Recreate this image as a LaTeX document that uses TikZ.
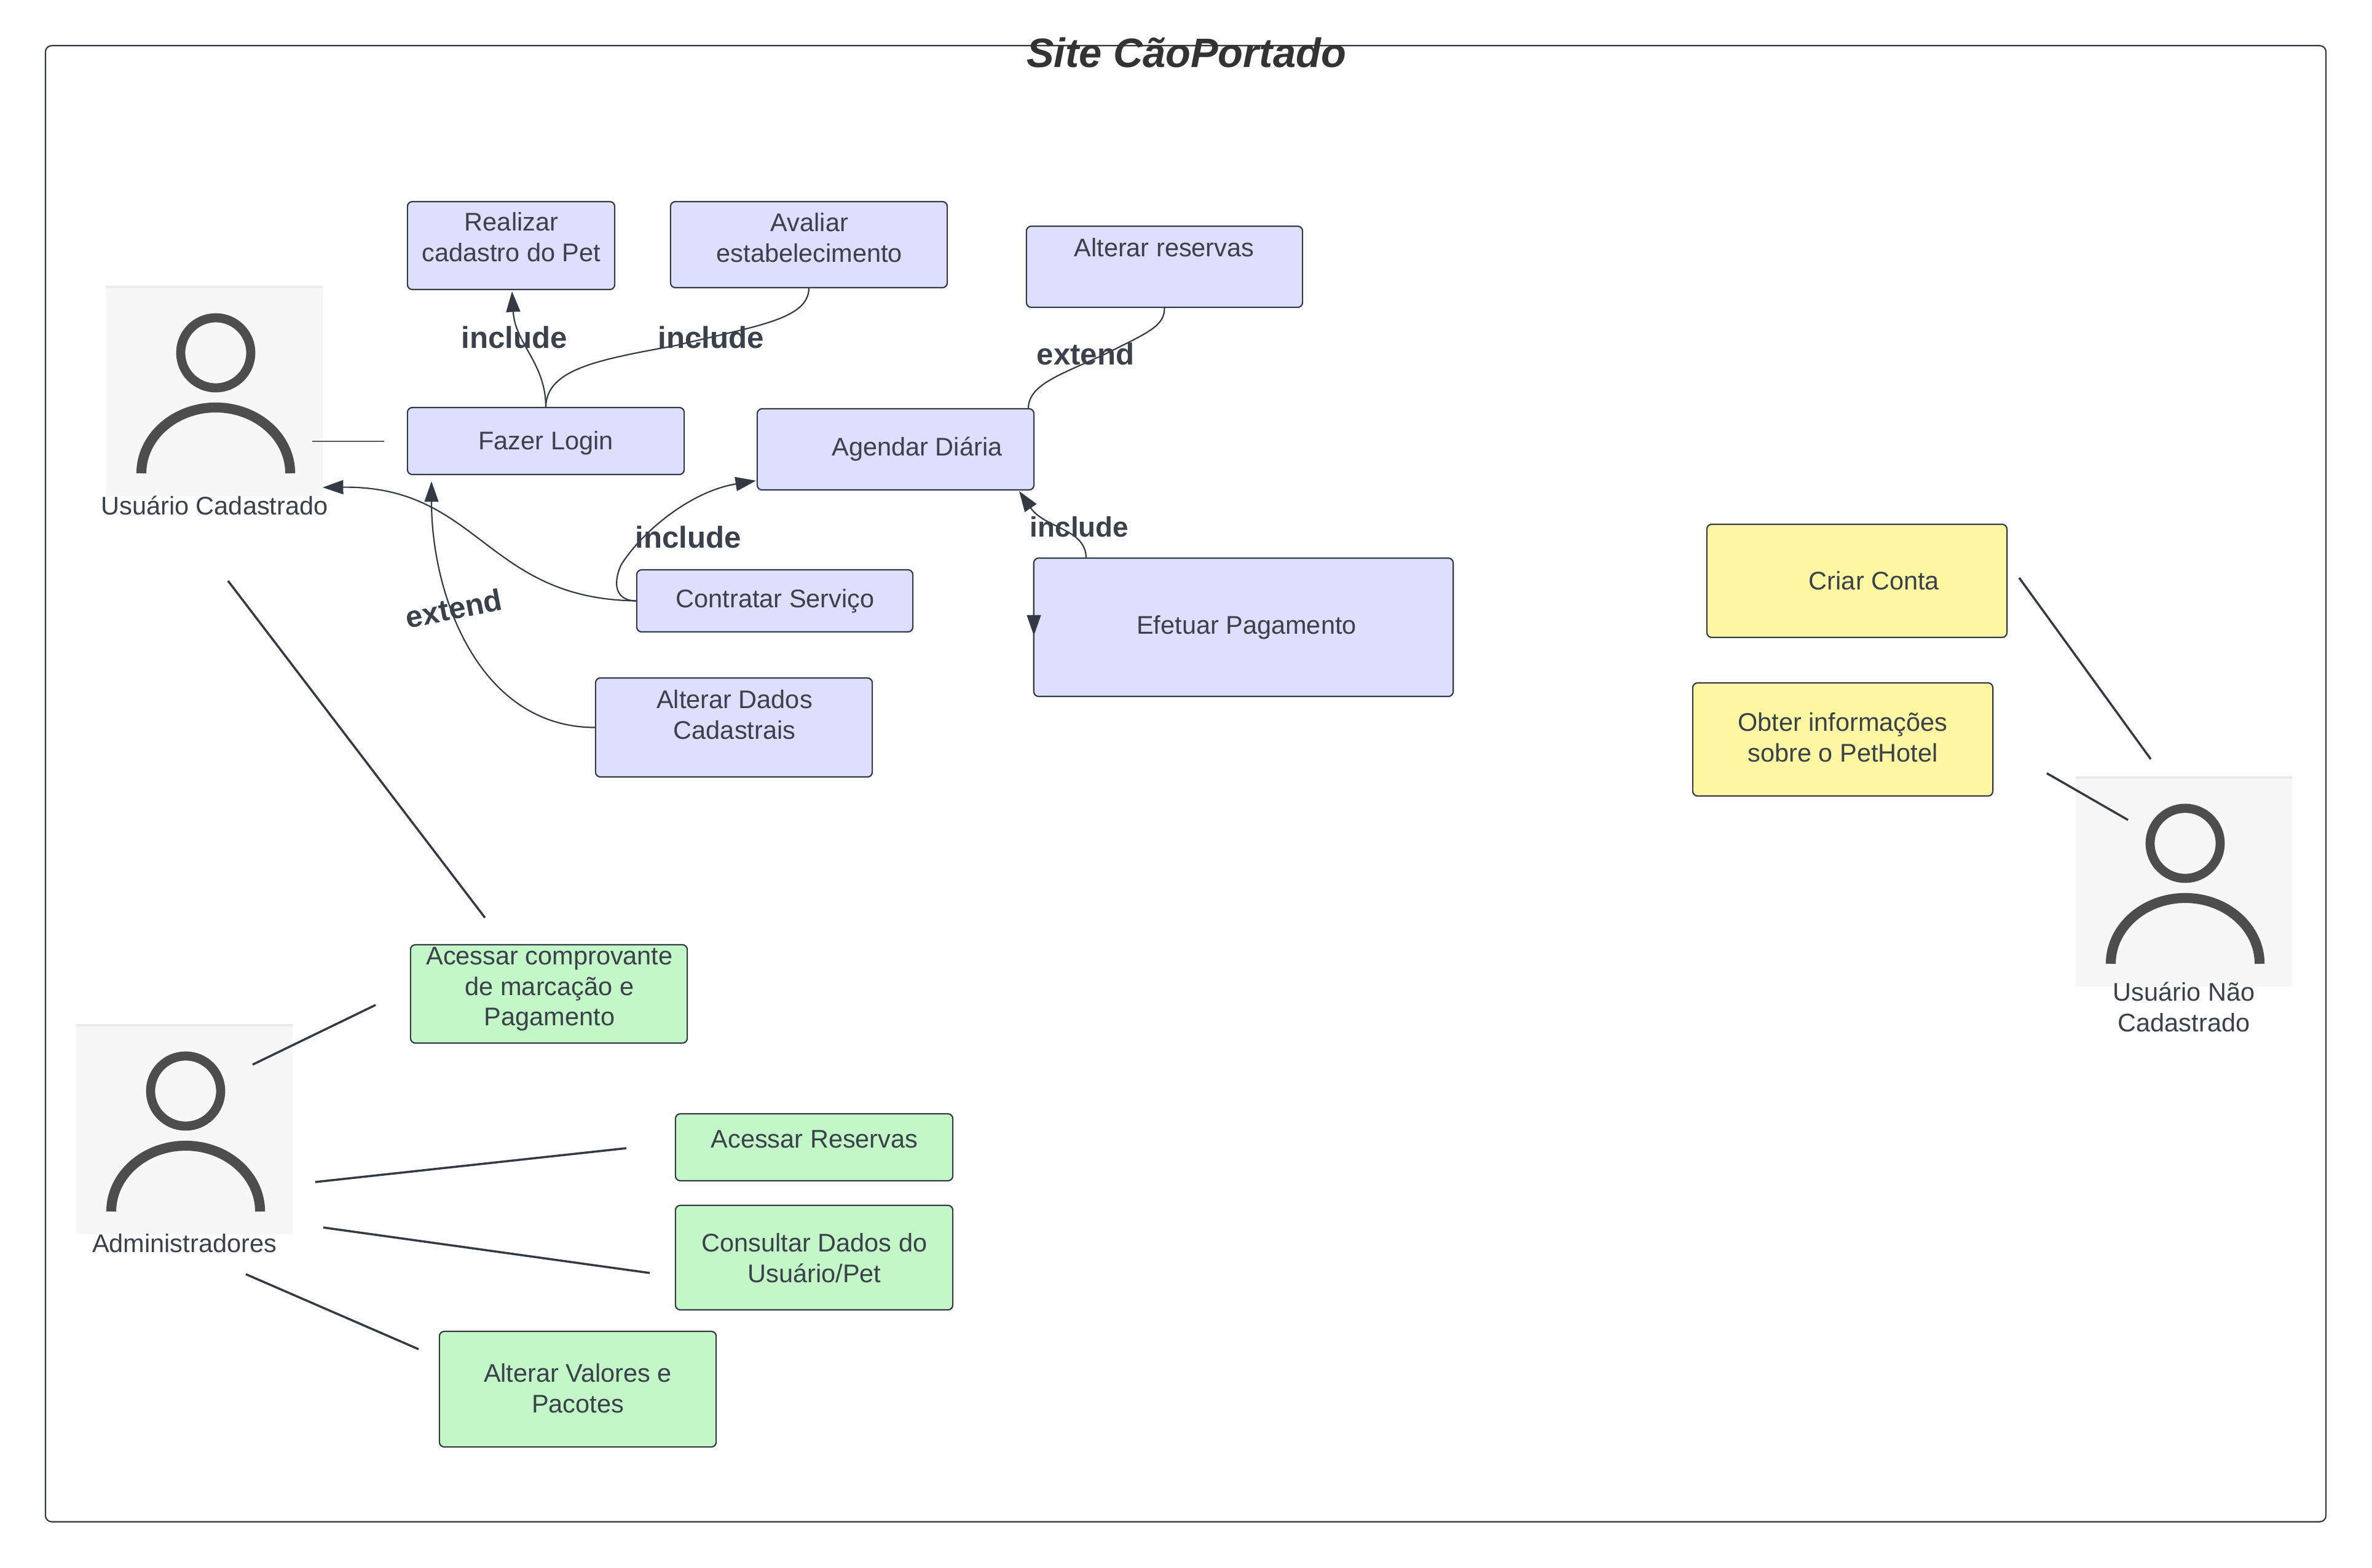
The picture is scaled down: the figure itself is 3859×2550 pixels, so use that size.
\documentclass[tikz,border=0pt]{standalone}
\usepackage{fontspec}
\setmainfont{Liberation Sans}
\usetikzlibrary{arrows.meta}
\definecolor{inkline}{HTML}{333A44}
\definecolor{inktext}{HTML}{3A414A}
\definecolor{purplefill}{HTML}{DEDEFF}
\definecolor{greenfill}{HTML}{C3F7C8}
\definecolor{yellowfill}{HTML}{FFF7A1}
\definecolor{actorfill}{HTML}{F7F7F7}
\definecolor{actorink}{HTML}{4D4D4D}
\tikzset{
  ucbox/.style={draw=inkline, line width=.62pt, rounded corners=.08cm, inner sep=0pt, outer sep=0pt},
  purplebox/.style={ucbox, fill=purplefill},
  greenbox/.style={ucbox, fill=greenfill},
  yellowbox/.style={ucbox, fill=yellowfill},
  boxtext/.style={text=inktext, align=center, inner sep=0pt, font=\fontsize{11.8pt}{14.2pt}\selectfont},
  relname/.style={text=inktext, inner sep=0pt, font=\fontsize{14pt}{17pt}\selectfont\bfseries},
  curve/.style={draw=inkline, line width=.62pt},
  arrowcurve/.style={curve, -{Triangle[length=9.5pt,width=6.5pt]}},
  assoc/.style={draw=inkline, line width=1pt},
  useractor/.pic={
    \node[fill=actorfill, minimum width=3.52cm, minimum height=3.4cm, inner sep=0pt, outer sep=0pt] (-img) at (0,0) {};
    \draw[draw=black!8, line width=1pt] (-img.north west) -- (-img.north east);
    \draw[actorink, line width=4.2pt] (2,-63) ellipse[x radius=.57cm, y radius=.57cm];
    \draw[actorink, line width=4.6pt] (-119,133) arc[start angle=180, end angle=0, x radius=1.21cm, y radius=1.07cm];
  }
}
\begin{document}
\begin{tikzpicture}[x=.01cm, y=-.01cm]
      \useasboundingbox (0,0) rectangle (3859,2550);
      \node[draw=inkline, line width=.62pt, rounded corners=.1cm, minimum width=37.08cm, minimum height=24cm, inner sep=0pt, outer sep=0pt] (frame) at (1929,1275) {};
      \node[text=black!80, inner sep=0pt, font=\fontsize{19pt}{23pt}\selectfont\bfseries\itshape] (title) at (1930,86) {Site CãoPortado};

      \pic (cad) at (349,637) {useractor};
      \pic (adm) at (300,1838) {useractor};
      \pic (nao) at (3553,1435) {useractor};
      \node[boxtext] (cadname) at (349,822) {Usuário Cadastrado};
      \node[boxtext] (admname) at (300,2023) {Administradores};
      \node[boxtext] (naoname) at (3553,1638) {Usuário Não\\Cadastrado};

      \node[purplebox, minimum width=3.37cm, minimum height=1.43cm] (realizar) at (831.5,399.5) {};
      \node[boxtext] (realizartext) at (832,386) {Realizar\\cadastro do Pet};
      \node[purplebox, minimum width=4.5cm, minimum height=1.4cm] (avaliar) at (1316,398) {};
      \node[boxtext] (avaliartext) at (1317,387) {Avaliar\\estabelecimento};
      \node[purplebox, minimum width=4.49cm, minimum height=1.32cm] (reservas) at (1894.5,434) {};
      \node[boxtext] (reservastext) at (1894,403) {Alterar reservas};
      \node[purplebox, minimum width=4.5cm, minimum height=1.09cm] (login) at (888,717.5) {};
      \node[boxtext] (logintext) at (888,721) {Fazer Login};
      \node[purplebox, minimum width=4.5cm, minimum height=1.32cm] (agendar) at (1457,731) {};
      \node[boxtext] (agendartext) at (1492,731) {Agendar Diária};
      \node[purplebox, minimum width=4.49cm, minimum height=1.01cm] (contratar) at (1260.5,977.5) {};
      \node[boxtext] (contratartext) at (1261,978) {Contratar Serviço};
      \node[purplebox, minimum width=4.5cm, minimum height=1.61cm] (altdados) at (1194,1183.5) {};
      \node[boxtext] (altdadostext) at (1195,1163) {Alterar Dados\\Cadastrais};
      \node[purplebox, minimum width=6.82cm, minimum height=2.25cm] (pagamento) at (2023,1020.5) {};
      \node[boxtext] (pagamentotext) at (2028,1021) {Efetuar Pagamento};

      \node[greenbox, minimum width=4.5cm, minimum height=1.6cm] (comprovante) at (893,1617) {};
      \node[boxtext] (comprovantetext) at (894,1609) {Acessar comprovante\\de marcação e\\Pagamento};
      \node[greenbox, minimum width=4.51cm, minimum height=1.09cm] (acessar) at (1324.5,1866.5) {};
      \node[boxtext] (acessartext) at (1325,1853) {Acessar Reservas};
      \node[greenbox, minimum width=4.51cm, minimum height=1.7cm] (consultar) at (1324.5,2046) {};
      \node[boxtext] (consultartext) at (1325,2047) {Consultar Dados do\\Usuário/Pet};
      \node[greenbox, minimum width=4.5cm, minimum height=1.88cm] (valores) at (940,2260) {};
      \node[boxtext] (valorestext) at (940,2259) {Alterar Valores e\\Pacotes};

      \node[yellowbox, minimum width=4.88cm, minimum height=1.84cm] (criar) at (3021,945) {};
      \node[boxtext] (criartext) at (3049,945) {Criar Conta};
      \node[yellowbox, minimum width=4.88cm, minimum height=1.84cm] (obter) at (2998,1203) {};
      \node[boxtext] (obtertext) at (2998,1200) {Obter informações\\sobre o PetHotel};

      \coordinate (realizarin) at (833,474);
      \coordinate (cadin) at (525,793);
      \coordinate (agendarin) at (1230,782);
      \coordinate (loginin) at (702,783);
      \coordinate (agendarout) at (1673,665);
      \coordinate (agendarlow) at (1658,799);
      \coordinate (pagamentotop) at (1767,908);
      \coordinate (pagamentoleft) at (1682,1000);
      \coordinate (pagamentoin) at (1682,1034);

      \draw[arrowcurve] (login.north) .. controls (888,590) and (838,560) .. (realizarin);
      \draw[curve] (login.north) .. controls (888,600) and (975,585) .. (1100,562) .. controls (1230,530) and (1316,520) .. (avaliar.south);
      \draw[curve] (reservas.south) .. controls (1895,530) and (1870,540) .. (1800,575) .. controls (1725,610) and (1673,625) .. (agendarout);
      \draw[arrowcurve] (contratar.west) .. controls (1005,978) and (995,955) .. (1010,920) .. controls (1040,870) and (1120,800) .. (agendarin);
      \draw[arrowcurve] (contratar.west) .. controls (790,975) and (780,790) .. (cadin);
      \draw[arrowcurve] (altdados.west) .. controls (780,1184) and (702,970) .. (loginin);
      \draw[arrowcurve] (pagamentotop) .. controls (1767,860) and (1700,860) .. (agendarlow);
      \draw[arrowcurve] (pagamentoleft) -- (pagamentoin);

      \node[relname] (inclogin) at (837,549) {include};
      \node[relname] (incavaliar) at (1157,549) {include};
      \node[relname] (incagendar) at (1120,874) {include};
      \node[relname, rotate=11] (extdados) at (738,990) {extend};
      \node[relname] (extreservas) at (1766,576) {extend};
      \node[relname, font=\fontsize{13pt}{16pt}\selectfont\bfseries] (incpagamento) at (1756,857) {include};

      \coordinate (a1) at (508,718);
      \coordinate (a2) at (625,718);
      \coordinate (b1) at (371,945);
      \coordinate (b2) at (789,1493);
      \coordinate (c1) at (411,1732);
      \coordinate (c2) at (611,1635);
      \coordinate (d1) at (513,1923);
      \coordinate (d2) at (1019,1868);
      \coordinate (e1) at (526,1997);
      \coordinate (e2) at (1057,2071);
      \coordinate (f1) at (400,2073);
      \coordinate (f2) at (681,2195);
      \coordinate (g1) at (3285,940);
      \coordinate (g2) at (3499,1235);
      \coordinate (h1) at (3330,1258);
      \coordinate (h2) at (3462,1334);
      \draw[draw=inkline!85, line width=.55pt] (a1) -- (a2);
      \draw[assoc] (b1) -- (b2);
      \draw[assoc] (c1) -- (c2);
      \draw[assoc] (d1) -- (d2);
      \draw[assoc] (e1) -- (e2);
      \draw[assoc] (f1) -- (f2);
      \draw[assoc] (g1) -- (g2);
      \draw[assoc] (h1) -- (h2);
    \end{tikzpicture}
\end{document}
